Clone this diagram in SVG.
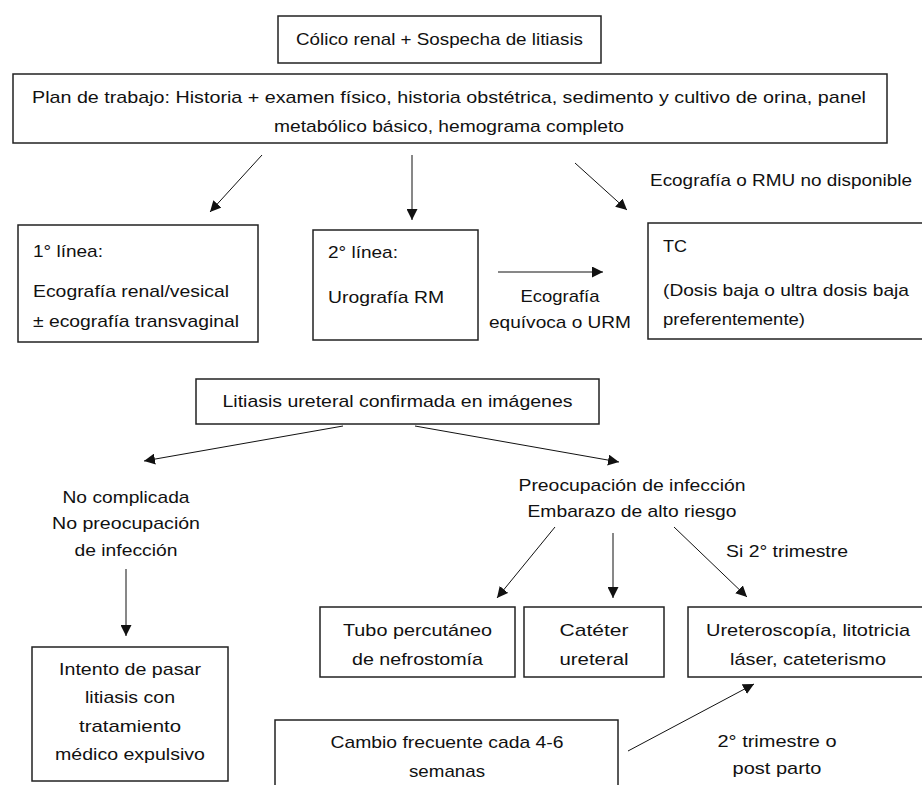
<svg xmlns="http://www.w3.org/2000/svg" width="922" height="785" viewBox="0 0 922 785">
<defs>
<marker id="ah" viewBox="0 0 10 10" refX="10" refY="5" markerWidth="11" markerHeight="11" markerUnits="userSpaceOnUse" orient="auto">
<path d="M0,0 L10,5 L0,10 Z" fill="#111"/>
</marker>
</defs>
<style>
.box{fill:#fff;stroke:#222;stroke-width:1.5}
text{font-family:"Liberation Sans",Arial,sans-serif;font-size:17px;fill:#111}
.c{text-anchor:middle}
.ln{stroke:#111;stroke-width:1;fill:none;marker-end:url(#ah)}
</style>
<rect width="922" height="785" fill="#fff"/>
<g id="n1"><rect class="box" x="278" y="16" width="323" height="47"/><text class="c" x="439.5" y="45" textLength="287" lengthAdjust="spacingAndGlyphs">Cólico renal + Sospecha de litiasis</text></g>
<g id="n2"><rect class="box" x="13" y="74" width="874" height="69"/><text class="c" x="449" y="103" textLength="834" lengthAdjust="spacingAndGlyphs">Plan de trabajo: Historia + examen físico, historia obstétrica, sedimento y cultivo de orina, panel</text><text class="c" x="449" y="132" textLength="350" lengthAdjust="spacingAndGlyphs">metabólico básico, hemograma completo</text></g>
<g id="lbl1"><text x="650" y="186" textLength="262" lengthAdjust="spacingAndGlyphs">Ecografía o RMU no disponible</text></g>
<g id="n3"><rect class="box" x="18" y="225" width="240" height="117"/><text x="33" y="257" textLength="70" lengthAdjust="spacingAndGlyphs">1° línea:</text><text x="33" y="297" textLength="196" lengthAdjust="spacingAndGlyphs">Ecografía renal/vesical</text><text x="33" y="327" textLength="206" lengthAdjust="spacingAndGlyphs">± ecografía transvaginal</text></g>
<g id="n4"><rect class="box" x="313" y="230" width="165" height="110"/><text x="328" y="258" textLength="70" lengthAdjust="spacingAndGlyphs">2° línea:</text><text x="328" y="303" textLength="116" lengthAdjust="spacingAndGlyphs">Urografía RM</text></g>
<g id="lbl2"><text class="c" x="560" y="302" textLength="79" lengthAdjust="spacingAndGlyphs">Ecografía</text><text class="c" x="560" y="328" textLength="142" lengthAdjust="spacingAndGlyphs">equívoca o URM</text></g>
<g id="n5"><rect class="box" x="648" y="223" width="290" height="116"/><text x="663" y="252" textLength="24" lengthAdjust="spacingAndGlyphs">TC</text><text x="663" y="296" textLength="246" lengthAdjust="spacingAndGlyphs">(Dosis baja o ultra dosis baja</text><text x="663" y="325" textLength="142" lengthAdjust="spacingAndGlyphs">preferentemente)</text></g>
<g id="n6"><rect class="box" x="196" y="379" width="403" height="45"/><text class="c" x="397.5" y="407" textLength="350" lengthAdjust="spacingAndGlyphs">Litiasis ureteral confirmada en imágenes</text></g>
<g id="lbl3"><text class="c" x="126" y="503" textLength="127" lengthAdjust="spacingAndGlyphs">No complicada</text><text class="c" x="126" y="529" textLength="148" lengthAdjust="spacingAndGlyphs">No preocupación</text><text class="c" x="126" y="556" textLength="103" lengthAdjust="spacingAndGlyphs">de infección</text></g>
<g id="lbl4"><text class="c" x="632" y="491" textLength="227" lengthAdjust="spacingAndGlyphs">Preocupación de infección</text><text class="c" x="632" y="517" textLength="209" lengthAdjust="spacingAndGlyphs">Embarazo de alto riesgo</text></g>
<g id="lbl5"><text x="726" y="557" textLength="122" lengthAdjust="spacingAndGlyphs">Si 2° trimestre</text></g>
<g id="n7"><rect class="box" x="32" y="647" width="196" height="134"/><text class="c" x="130" y="675" textLength="142" lengthAdjust="spacingAndGlyphs">Intento de pasar</text><text class="c" x="130" y="703" textLength="90" lengthAdjust="spacingAndGlyphs">litiasis con</text><text class="c" x="130" y="732" textLength="102" lengthAdjust="spacingAndGlyphs">tratamiento</text><text class="c" x="130" y="760" textLength="150" lengthAdjust="spacingAndGlyphs">médico expulsivo</text></g>
<g id="n8"><rect class="box" x="320" y="607" width="195" height="70"/><text class="c" x="417.5" y="636" textLength="149" lengthAdjust="spacingAndGlyphs">Tubo percutáneo</text><text class="c" x="417.5" y="665" textLength="131" lengthAdjust="spacingAndGlyphs">de nefrostomía</text></g>
<g id="n9"><rect class="box" x="524" y="607" width="140" height="70"/><text class="c" x="594" y="636" textLength="69" lengthAdjust="spacingAndGlyphs">Catéter</text><text class="c" x="594" y="665" textLength="69" lengthAdjust="spacingAndGlyphs">ureteral</text></g>
<g id="n10"><rect class="box" x="688" y="607" width="250" height="70"/><text class="c" x="808" y="636" textLength="204" lengthAdjust="spacingAndGlyphs">Ureteroscopía, litotricia</text><text class="c" x="808" y="665" textLength="156" lengthAdjust="spacingAndGlyphs">láser, cateterismo</text></g>
<g id="n11"><rect class="box" x="275" y="720" width="343" height="100"/><text class="c" x="447" y="748" textLength="233" lengthAdjust="spacingAndGlyphs">Cambio frecuente cada 4-6</text><text class="c" x="447" y="777" textLength="76" lengthAdjust="spacingAndGlyphs">semanas</text></g>
<g id="lbl6"><text class="c" x="777" y="747" textLength="119" lengthAdjust="spacingAndGlyphs">2° trimestre o</text><text class="c" x="777" y="774" textLength="89" lengthAdjust="spacingAndGlyphs">post parto</text></g>
<g id="connectors">
<line class="ln" x1="262" y1="155" x2="210" y2="212"/>
<line class="ln" x1="412" y1="155" x2="412" y2="220"/>
<line class="ln" x1="575" y1="163" x2="627" y2="210"/>
<line class="ln" x1="498" y1="272" x2="603" y2="272"/>
<line class="ln" x1="343" y1="426" x2="144" y2="461"/>
<line class="ln" x1="415" y1="426" x2="619" y2="462"/>
<line class="ln" x1="555" y1="527" x2="497" y2="598"/>
<line class="ln" x1="613" y1="533" x2="613" y2="598"/>
<line class="ln" x1="674" y1="527" x2="747" y2="597"/>
<line class="ln" x1="126" y1="569" x2="126" y2="636"/>
<line class="ln" x1="628" y1="751" x2="754" y2="684"/>
</g>
</svg>
